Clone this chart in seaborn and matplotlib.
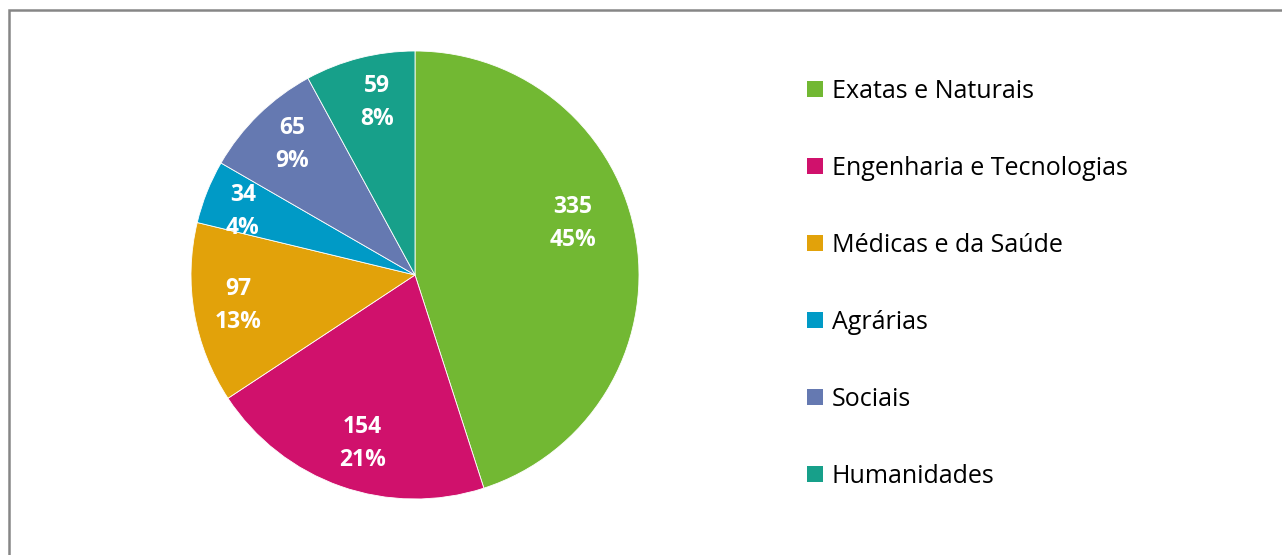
import matplotlib
matplotlib.use("Agg")
import matplotlib.pyplot as plt
import seaborn as sns
import numpy as np
from matplotlib.patches import Patch, Rectangle

categories = ["Exatas e Naturais", "Engenharia e Tecnologias", "Médicas e da Saúde",
              "Agrárias", "Sociais", "Humanidades"]
values = [335, 154, 97, 34, 65, 59]
percents = [45, 21, 13, 4, 9, 8]
colors = ["#72B833", "#D0116C", "#E2A20A", "#009AC6", "#6579B1", "#17A08A"]

sns.set_theme(style="white")
plt.rcParams['font.family'] = ['Open Sans', 'DejaVu Sans']
plt.rcParams['text.color'] = 'black'

W, H = 1282, 555
fig = plt.figure(figsize=(W / 100, H / 100), dpi=100)

cx, cy, r = 415, 275, 224
ax = fig.add_axes([(cx - r) / W, (H - cy - r) / H, 2 * r / W, 2 * r / H])
wedges, texts = ax.pie(values, colors=colors, startangle=90, counterclock=False,
                       radius=1, wedgeprops=dict(linewidth=0.6, edgecolor="white"))
# label placement (distance from centre, angle shift in degrees) per slice
label_dist = [0.74, 0.79, 0.80, 0.82, 0.80, 0.79]
label_shift = [9, 2, 0, 1.5, -1, -2]
for w, v, p, d, s in zip(wedges, values, percents, label_dist, label_shift):
    ang = np.deg2rad((w.theta1 + w.theta2) / 2 + s)
    ax.text(d * np.cos(ang), d * np.sin(ang), f"{v}\n{p}%", ha="center", va="center",
            color="white", fontsize=16.5, fontweight="bold", linespacing=1.5)
ax.set_xlim(-1, 1)
ax.set_ylim(-1, 1)
ax.set_aspect("equal")
ax.axis("off")

handles = [Patch(facecolor=c, edgecolor="none") for c in colors]
fig.legend(handles, categories, loc="upper left", bbox_to_anchor=(807 / W, 1 - 79 / H),
           frameon=False, fontsize=18, handlelength=0.64, handleheight=0.64,
           handletextpad=0.36, labelspacing=2.08, borderaxespad=0, borderpad=0,
           labelcolor="black")

fig.patches.append(Rectangle((8.5 / W, -0.1), 1.2, 1 - 9.5 / H + 0.1, transform=fig.transFigure,
                             fill=False, edgecolor="#868686", linewidth=1.8))

fig.savefig("out.png", dpi=100)
